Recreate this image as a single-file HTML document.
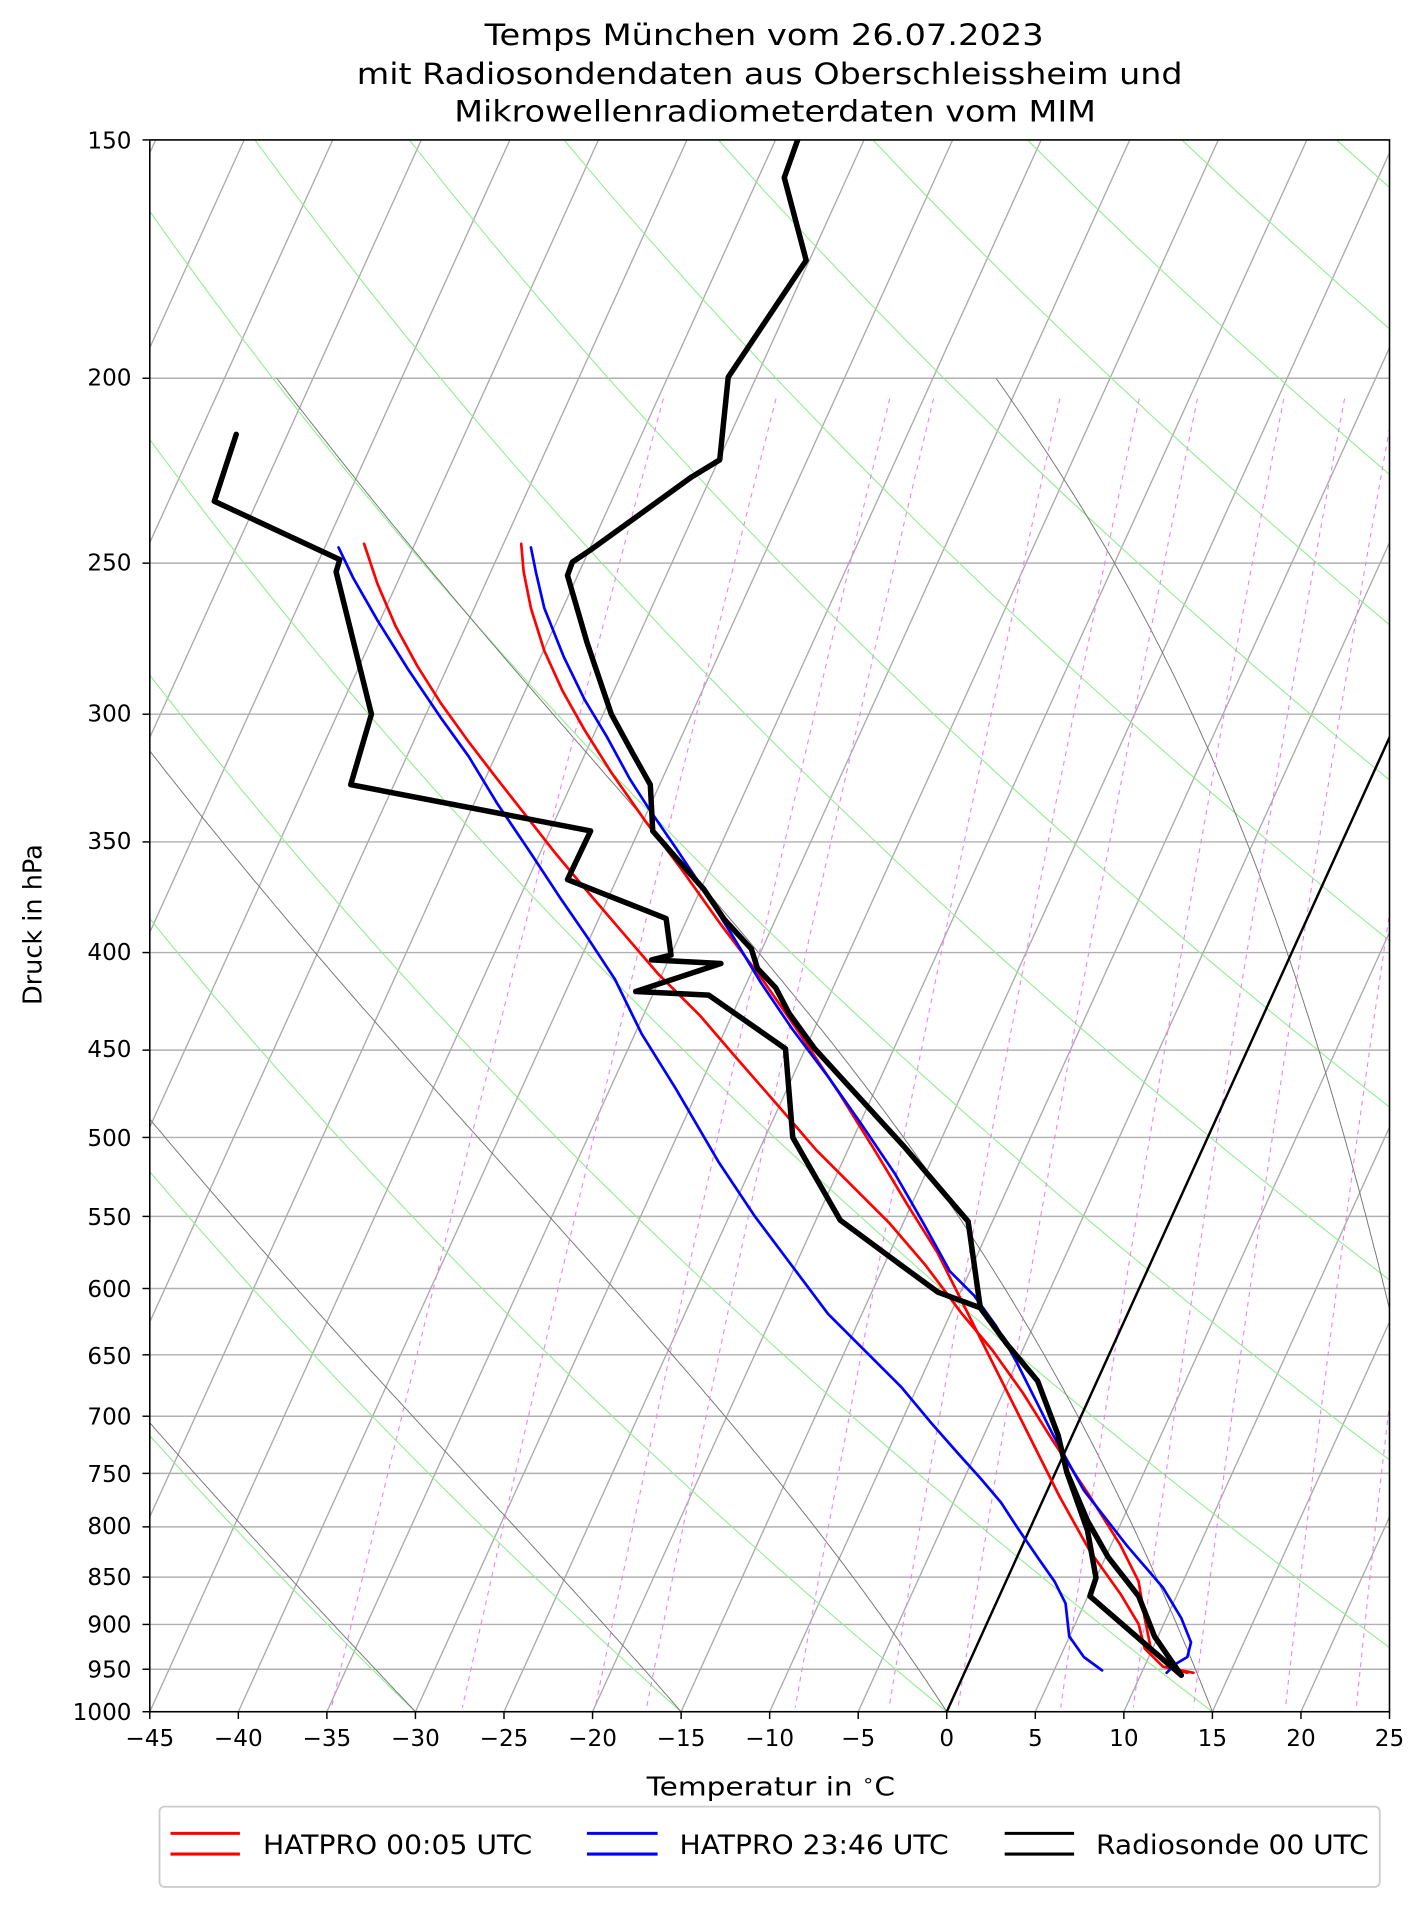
<!DOCTYPE html>
<html><head><meta charset="utf-8"><style>
html,body{margin:0;padding:0;background:#fff;}
svg{display:block;font-family:"DejaVu Sans","Liberation Sans",sans-serif;}
</style></head><body>
<svg id="s" width="1427" height="1907" viewBox="0 0 1165 1557" preserveAspectRatio="none" xmlns="http://www.w3.org/2000/svg">
<defs><clipPath id="c"><rect x="123" y="115" width="1018" height="1292"/></clipPath></defs>
<rect width="1165" height="1557" fill="#fff"/>
<g transform="scale(0.9942,0.9933)">
<g id="bg" clip-path="url(#c)"></g>
<g id="data" clip-path="url(#c)" fill="none" stroke-linejoin="round" stroke-linecap="round">
<polyline stroke="#f00" stroke-width="2.2" points="428,447 430,470 436,500 447,535 462,568 480,600 502,635 530,675 560,715 592,760 626,805 657,850 690,900 718,945 745,990 770,1030 790,1070 810,1110 830,1150 850,1190 870,1230 895,1275 920,1310 935,1335 940,1355 955,1370 980,1375"/>
<polyline stroke="#f00" stroke-width="2.2" points="299,447 310,480 325,515 343,548 362,578 385,610 408,640 430,668 455,700 480,730 510,765 540,800 575,835 605,870 640,910 670,945 700,975 730,1005 760,1040 790,1080 815,1110 840,1145 865,1185 895,1230 920,1270 935,1300 940,1330 945,1355 960,1370 975,1375"/>
<polyline stroke="#00f" stroke-width="2.2" points="436,450 440,470 447,500 463,540 480,575 498,605 517,640 533,665 555,697 577,730 602,770 625,808 650,845 680,885 708,925 735,965 758,1005 780,1045 800,1065 818,1090 835,1120 850,1150 865,1180 890,1225 925,1270 955,1305 970,1330 978,1350 975,1362 965,1368 958,1375"/>
<polyline stroke="#00f" stroke-width="2.2" points="278,450 290,475 310,510 335,550 362,590 385,622 408,660 435,700 460,738 482,770 505,805 527,850 555,895 590,955 620,1000 650,1040 680,1080 710,1110 740,1140 765,1170 787,1195 805,1215 822,1235 835,1255 852,1280 866,1300 875,1318 878,1345 890,1362 905,1373"/>
<polyline stroke="#000" stroke-width="4.5" points="655,115 644,146 662,214 598,310 591,378 568,392 485,452 470,462 466,473 482,528 502,587 520,620 534,645 536,683 556,706 578,731 595,756 617,780 622,796 637,812 648,833 669,862 742,942 795,1004 805,1075 827,1105 852,1135 869,1180 876,1210 893,1258 900,1297 895,1312 970,1377"/>
<polyline stroke="#000" stroke-width="4.5" points="194,357 176,412 279,460 276,470 305,587 288,645 485,683 466,723 547,755 551,785 535,789 592,792 522,815 582,818 645,862 651,935 690,1003 740,1040 770,1062 805,1075"/>
<polyline stroke="#000" stroke-width="4.5" points="876,1210 893,1250 910,1280 935,1312 948,1345 970,1377"/>
</g>
<rect x="123" y="115" width="1018" height="1292" fill="none" stroke="#000" stroke-width="1.3"/>
<g id="ticks" stroke="#000" stroke-width="1.2"></g>
<g font-size="19" text-anchor="end" fill="#000">
<text x="108" y="122">150</text><text x="108" y="317">200</text><text x="108" y="469">250</text><text x="108" y="593">300</text><text x="108" y="698">350</text><text x="108" y="789">400</text><text x="108" y="869">450</text><text x="108" y="942">500</text><text x="108" y="1007">550</text><text x="108" y="1066">600</text><text x="108" y="1121">650</text><text x="108" y="1171">700</text><text x="108" y="1218">750</text><text x="108" y="1261">800</text><text x="108" y="1303">850</text><text x="108" y="1342">900</text><text x="108" y="1379">950</text><text x="108" y="1414">1000</text>
</g>
<g id="xl" font-size="19" text-anchor="middle" fill="#000"></g>
<text x="531" y="1476" font-size="21" textLength="204" lengthAdjust="spacingAndGlyphs">Temperatur in <tspan font-size="14" dy="-8">∘</tspan><tspan dy="8">C</tspan></text>
<text transform="translate(34,760) rotate(-90)" font-size="21" text-anchor="middle">Druck in hPa</text>
<g font-size="24">
<text x="398" y="37" textLength="459" lengthAdjust="spacingAndGlyphs">Temps München vom 26.07.2023</text>
<text x="293" y="69" textLength="678" lengthAdjust="spacingAndGlyphs">mit Radiosondendaten aus Oberschleissheim und</text>
<text x="373" y="100" textLength="527" lengthAdjust="spacingAndGlyphs">Mikrowellenradiometerdaten vom MIM</text>
</g>
<rect x="131" y="1485" width="1002" height="66" rx="4" fill="#fff" stroke="#ccc" stroke-width="1.5"/>
<g stroke-width="2.5">
<line x1="140" y1="1507" x2="197" y2="1507" stroke="#f00"/><line x1="140" y1="1524" x2="197" y2="1524" stroke="#f00"/>
<line x1="482" y1="1507" x2="540" y2="1507" stroke="#00f"/><line x1="482" y1="1524" x2="540" y2="1524" stroke="#00f"/>
<line x1="825" y1="1507" x2="882" y2="1507" stroke="#000"/><line x1="825" y1="1524" x2="882" y2="1524" stroke="#000"/>
</g>
<g font-size="22">
<text x="216" y="1524" textLength="221" lengthAdjust="spacingAndGlyphs">HATPRO 00:05 UTC</text>
<text x="558" y="1524" textLength="221" lengthAdjust="spacingAndGlyphs">HATPRO 23:46 UTC</text>
<text x="900" y="1524" textLength="224" lengthAdjust="spacingAndGlyphs">Radiosonde 00 UTC</text>
</g>
</g>
</svg>
<script>
(function(){
var NS="http://www.w3.org/2000/svg";
var L150=Math.log(150),LR=Math.log(1000/150);
function Y(p){return 115+1292*(Math.log(p)-L150)/LR;}
function X(T,p){var y=Y(p);return 123+(T+45)*14.543+(1407-y)*0.454;}
var bg=document.getElementById("bg");
function pl(pts,st,w,dash){var e=document.createElementNS(NS,"polyline");e.setAttribute("points",pts.map(function(a){return a[0].toFixed(1)+","+a[1].toFixed(1)}).join(" "));e.setAttribute("fill","none");e.setAttribute("stroke",st);e.setAttribute("stroke-width",w);if(dash)e.setAttribute("stroke-dasharray",dash);bg.appendChild(e);}
function ln(x1,y1,x2,y2,st,w){var e=document.createElementNS(NS,"line");e.setAttribute("x1",x1);e.setAttribute("y1",y1);e.setAttribute("x2",x2);e.setAttribute("y2",y2);e.setAttribute("stroke",st);e.setAttribute("stroke-width",w);bg.appendChild(e);}
var P=[150,200,250,300,350,400,450,500,550,600,650,700,750,800,850,900,950,1000];
P.forEach(function(p){ln(123,Y(p),1141,Y(p),"#b0b0b0",1.2);});
for(var T=-130;T<=25;T+=5){ln(X(T,1000),1407,X(T,150),115,"#aaa",1.1);}
for(var th=-120;th<=240;th+=15){var pts=[];for(var p=150;p<=1000;p+=10){var Tk=(th+273.15)*Math.pow(p/1000,0.2857)-273.15;pts.push([X(Tk,p),Y(p)]);}pl(pts,"#90ee90",0.9);}
function es(T){return 6.112*Math.exp(17.67*T/(T+243.5));}
for(var t0=-75;t0<=45;t0+=15){var pts=[];var Tk=t0+273.15;var p=1000;pts.push([X(t0,p),Y(p)]);
 while(p>200){var dp=-2;var Tc=Tk-273.15;var e=es(Tc);var rs=0.622*e/(p-e);
  var dT=(287*Tk+2.5e6*rs)/(1005+2.5e6*2.5e6*rs*0.622/(287*Tk*Tk))/p;Tk+=dT*dp;p+=dp;pts.push([X(Tk-273.15,p),Y(p)]);}
 pl(pts,"#777",0.8);}
[-34.8,-27.4,-19.9,-17.0,-8.6,-3.3,0.6,6.4,10.5,13.9,19.1,23.1].forEach(function(td){var e0=es(td);var w=0.622*e0/(1000-e0);var pts=[];for(var p=205;p<=1000;p+=10){var e=w*p/(0.622+w);var l=Math.log(e/6.112);var T=243.5*l/(17.67-l);pts.push([X(T,p),Y(p)]);}pl(pts,"#ee82ee",0.9,"4,4");});
ln(X(0,1000),1407,X(0,150),115,"#000",2);
var tk=document.getElementById("ticks"),xl=document.getElementById("xl");
P.forEach(function(p){var e=document.createElementNS(NS,"line");e.setAttribute("x1",117);e.setAttribute("x2",123);e.setAttribute("y1",Y(p));e.setAttribute("y2",Y(p));tk.appendChild(e);});
for(var t=-45;t<=25;t+=5){var x=123+(t+45)*14.543;var e=document.createElementNS(NS,"line");e.setAttribute("x1",x);e.setAttribute("x2",x);e.setAttribute("y1",1407);e.setAttribute("y2",1413);tk.appendChild(e);
 var s=document.createElementNS(NS,"text");s.setAttribute("x",x);s.setAttribute("y",1435);s.textContent=(t<0?"\u2212"+(-t):""+t);xl.appendChild(s);}
})();
</script>
</body></html>
